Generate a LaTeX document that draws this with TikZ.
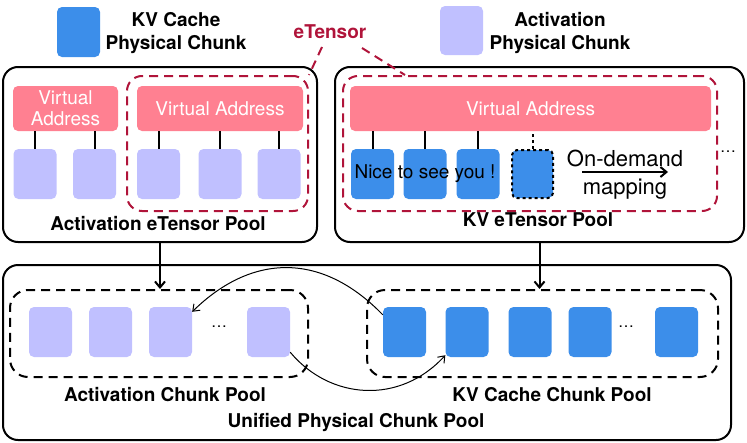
\documentclass[tikz,border=0pt]{standalone}
\usepackage{fontspec}
\setmainfont{TeX Gyre Heros}
\usetikzlibrary{arrows.meta}

\definecolor{kvblue}{RGB}{60,142,234}
\definecolor{actpurple}{RGB}{192,192,255}
\definecolor{vapink}{RGB}{255,128,145}
\definecolor{etred}{RGB}{176,20,58}

\tikzset{
    chunk/.style={rounded corners=5pt, minimum width=43pt, minimum height=50pt, inner sep=0pt},
    kvchunk/.style={chunk, fill=kvblue},
    actchunk/.style={chunk, fill=actpurple},
    vaddr/.style={rounded corners=5pt, fill=vapink, text=white, inner sep=0pt, align=center,
        font=\fontsize{19}{21}\selectfont},
    pool/.style={draw, line width=2pt, rounded corners=15pt, inner sep=0pt},
    etensor/.style={draw=etred, line width=2pt, dash pattern=on 9pt off 6pt, rounded corners=15pt, inner sep=0pt},
    chunkpool/.style={draw, line width=2pt, dash pattern=on 9pt off 6pt, rounded corners=18pt, inner sep=0pt},
    lbl/.style={font=\bfseries\fontsize{19}{23}\selectfont, align=center},
    txt/.style={font=\fontsize{19}{22}\selectfont},
    link/.style={line width=2pt},
    swap/.style={line width=1pt, -{Straight Barb[length=6pt,width=9pt]}},
}

\begin{document}
\begin{tikzpicture}[x=1pt,y=-1pt]
    \useasboundingbox (0,0) rectangle (747,442);

    % legend
    \node[kvchunk] (legkv) at (78.5,32) {};
    \node[lbl] (legkvtxt) at (176,33) {KV Cache\\Physical Chunk};
    \node[actchunk, minimum height=49pt] (legact) at (461.5,30.5) {};
    \node[lbl] (legacttxt) at (560,33) {Activation\\Physical Chunk};

    % eTensor pools
    \node[pool, minimum width=314pt, minimum height=175pt] (actpool) at (160,154.5) {};
    \node[pool, minimum width=409pt, minimum height=175pt] (kvpool) at (539.5,154.5) {};
    \node[etensor, minimum width=181pt, minimum height=135pt] (actet) at (217.5,143.5) {};
    \node[etensor, minimum width=374pt, minimum height=135pt] (kvet) at (530,143.5) {};

    \node[lbl, text=etred] (etlabel) at (330,32) {eTensor};
    \coordinate (etl) at (322,47);
    \coordinate (etr) at (362,48);
    \coordinate (kvtip) at (405,75);
    \draw[etred, line width=2pt, dash pattern=on 9pt off 6pt] (etl) -- (actet.north east);
    \draw[etred, line width=2pt, dash pattern=on 9pt off 6pt] (etr) -- (kvtip);

    \node[vaddr, minimum width=105pt, minimum height=45pt] (va1) at (65.5,108.5) {Virtual\\Address};
    \node[vaddr, minimum width=166pt, minimum height=45pt] (va2) at (220,108.5) {Virtual Address};
    \node[vaddr, minimum width=361pt, minimum height=45pt] (va3) at (530.5,108.5) {Virtual Address};

    \foreach \x/\n/\v in {35/a1/va1, 94.5/a2/va1, 158.5/a3/va2, 220/a4/va2, 279/a5/va2} {
        \node[actchunk] (\n) at (\x,174) {};
        \draw[link] (\n.north) -- (\n.north |- \v.south);
    }
    \foreach \x/\n in {372.5/k1, 425/k2, 478/k3} {
        \node[kvchunk] (\n) at (\x,174) {};
        \draw[link] (\n.north) -- (\n.north |- va3.south);
    }
    \node[kvchunk, draw, line width=2pt, dash pattern=on 3pt off 3pt, minimum width=41pt, minimum height=48pt] (k4) at (532.5,174) {};
    \draw[line width=2pt, dash pattern=on 3pt off 3pt] (k4.north) -- (k4.north |- va3.south);

    \node[txt] (nice) at (425,174) {Nice to see you !};
    \node[font=\fontsize{22}{26}\selectfont, anchor=base] (ondemand) at (625,166) {On-demand};
    \node[font=\fontsize{22}{26}\selectfont, anchor=base] (mapping) at (625,194) {mapping};
    \coordinate (mapl) at (582,172);
    \coordinate (mapr) at (668,172);
    \draw[line width=2pt, -{Straight Barb[length=6pt,width=10pt]}] (mapl) -- (mapr);
    \node[font=\fontsize{16}{18}\selectfont] (kvdots) at (728,152) {\dots};

    \node[lbl] (actpoollbl) at (158,224) {Activation eTensor Pool};
    \node[lbl] (kvpoollbl) at (538,220) {KV eTensor Pool};

    % unified physical chunk pool
    \node[pool, minimum width=728pt, minimum height=175pt] (unified) at (367,352.5) {};
    \node[chunkpool, minimum width=298pt, minimum height=87pt] (actcp) at (159,333.5) {};
    \node[chunkpool, minimum width=351pt, minimum height=87pt] (kvcp) at (542.5,333.5) {};

    \draw[line width=2pt, -{Straight Barb[length=6pt,width=10pt]}] (actpool.south) -- (actpool.south |- actcp.north);
    \draw[line width=2pt, -{Straight Barb[length=6pt,width=10pt]}] (kvpool.south) -- (kvpool.south |- kvcp.north);

    \foreach \x/\n in {50.5/b1, 110.5/b2, 170.5/b3, 268.5/b4}
        \node[actchunk] (\n) at (\x,332) {};
    \foreach \x/\n in {404.5/c1, 467/c2, 530/c3, 590/c4, 676.5/c5}
        \node[kvchunk] (\n) at (\x,332) {};
    \node[font=\fontsize{16}{18}\selectfont] (actdots) at (219,327) {\dots};
    \node[font=\fontsize{16}{18}\selectfont] (kvcdots) at (626,327) {\dots};

    \draw[swap] ([yshift=-8pt]c1.north west) .. controls (320,250) and (250,255) .. ([yshift=-5pt]b3.north east);
    \draw[swap] ([yshift=5pt]b4.south east) .. controls (330,400) and (400,405) .. ([yshift=2pt]c2.south west);

    \node[lbl] (actcplbl) at (165,395) {Activation Chunk Pool};
    \node[lbl] (kvcplbl) at (552,395) {KV Cache Chunk Pool};
    \node[lbl] (unifiedlbl) at (356,422) {Unified Physical Chunk Pool};
\end{tikzpicture}
\end{document}
